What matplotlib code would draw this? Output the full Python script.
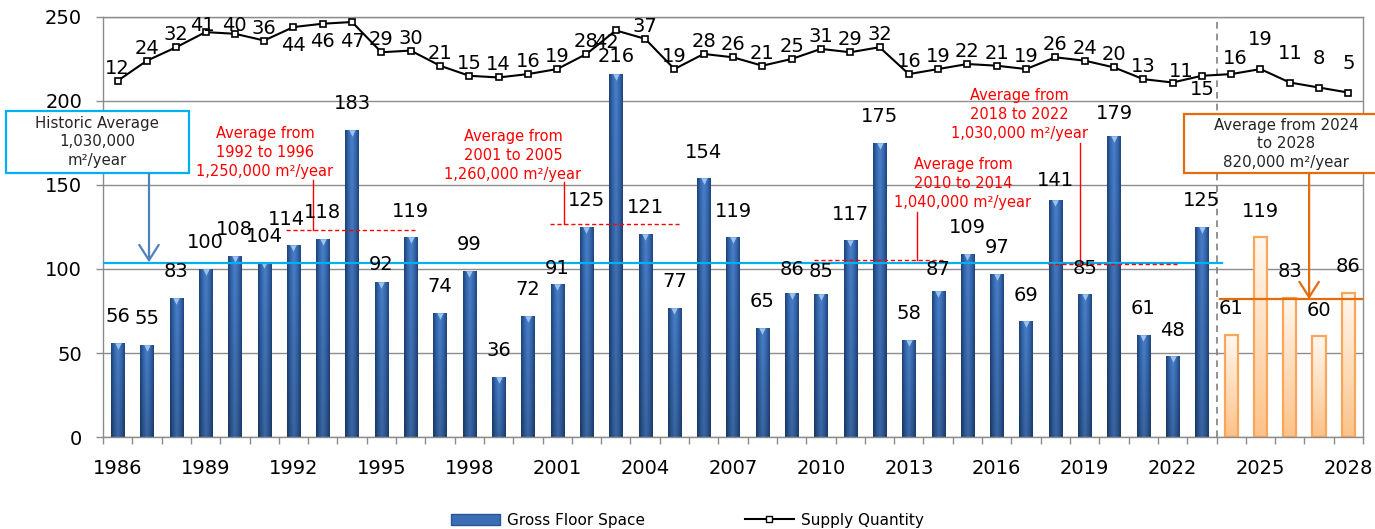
import numpy as np
import matplotlib.pyplot as plt
from matplotlib.patches import Rectangle, Patch
from matplotlib.lines import Line2D
from matplotlib.colors import LinearSegmentedColormap, to_rgb

# -----------------------------
# DATA
# -----------------------------
years = list(range(1986, 2029))
floor_actual = [56, 55, 83, 100, 108, 104, 114, 118, 183, 92,
                119, 74, 99, 36, 72, 91, 125, 216, 121, 77,
                154, 119, 65, 86, 85, 117, 175, 58, 87, 109,
                97, 69, 141, 85, 179, 61, 48, 125]
floor_forecast = [61, 119, 83, 60, 86]
supply_qty = [12, 24, 32, 41, 40, 36, 44, 46, 47, 29,
              30, 21, 15, 14, 16, 19, 28, 42, 37, 19,
              28, 26, 21, 25, 31, 29, 32, 16, 19, 22,
              21, 19, 26, 24, 20, 13, 11, 15, 16, 19,
              11, 8, 5]
tick_years = years[::3]

avg_starts = [1992, 2001, 2010, 2018]
avg_ends = [1996, 2005, 2014, 2022]
avg_amounts = ["1,250,000", "1,260,000", "1,040,000", "1,030,000"]
avg_levels = [123, 126.5, 105.5, 103]
historic_avg = 103.5
forecast_avg = 82

# -----------------------------
# STYLE
# -----------------------------
GRID = "#8C8C8C"
CYAN = "#00B0F0"
ARROW_BLUE = "#4F81BD"
ORANGE = "#E46C0A"
RED = "#FF0000"
FS = 14

# text x, text y, stem x, stem top (data coords)
AVG_LAYOUT = [(5.03, 169.3, 6.67, 152.7),
              (13.49, 167.6, 15.23, 151.5),
              (28.85, 150.9, 27.28, 133.7),
              (30.76, 191.9, 32.84, 174.7)]

# label nudges
BAR_OFFSETS = {1992: (-0.25, 0), 1995: (0, -5), 2001: (0, -6), 2003: (0, -5),
               2009: (0, -2), 2010: (0, -2), 2014: (0, -3), 2018: (0, -4),
               2020: (0, -2)}
LINE_OFFSETS = {1989: (-2, 5), 1990: (0, 6), 1992: (0, -13), 1993: (0, -13),
                1994: (0, -14), 2003: (-7, -9), 2022: (6, 8), 2023: (0, -10),
                2024: (3, 11), 2025: (0, 21), 2026: (0, 21), 2027: (0, 21),
                2028: (0, 21)}

n_act = len(floor_actual)
x_act = np.arange(n_act)
x_fc = np.arange(n_act, n_act + len(floor_forecast))
x_all = np.arange(len(years))

fig = plt.figure(figsize=(13.75, 5.29), dpi=100)
ax = fig.add_axes([0.0749, 0.1739, 0.9164, 0.794])

# blue bars with a simple 3D-ish gradient
blue_cmap = LinearSegmentedColormap.from_list(
    "bluebar", ["#1D4378", "#3569B0", "#4A80CB", "#386AB0", "#1F4680"])
bars = ax.bar(x_act, floor_actual, width=0.45, color="none",
              edgecolor="none", zorder=2)
prof = np.array([blue_cmap(t)[:3] for t in np.linspace(0, 1, 40)])
vert = np.linspace(1.0, 0.8, 40)[:, None, None]
blue_img = np.clip(prof[None, :, :] * vert, 0, 1)
for b in bars:
    im = ax.imshow(blue_img, aspect="auto", interpolation="bilinear",
                   extent=[b.get_x(), b.get_x() + b.get_width(), 0, b.get_height()],
                   zorder=1.9)
    im.set_clip_path(b)
ax.scatter(x_act, np.array(floor_actual) - 1.8, marker="v", s=22,
           color="#9CC3EE", zorder=2.1, linewidths=0)

# orange forecast bars
obars = ax.bar(x_fc, floor_forecast, width=0.45, color="none",
               edgecolor="#F9A65A", linewidth=1.6, zorder=2)
top_c = np.array(to_rgb("#FFF8EF"))
bot_c = np.array(to_rgb("#FCC38A"))
t = np.linspace(0, 1, 40)[:, None]
org_img = (top_c * (1 - t) + bot_c * t)[:, None, :]
for b in obars:
    im = ax.imshow(org_img, aspect="auto", interpolation="bilinear",
                   extent=[b.get_x(), b.get_x() + b.get_width(), 0, b.get_height()],
                   zorder=1.9)
    im.set_clip_path(b)

# bar value labels
for yr, xi, v in zip(years, x_all, floor_actual + floor_forecast):
    dx, dy = BAR_OFFSETS.get(yr, (0, 0))
    ax.text(xi + dx, v + 15.5 + dy, str(v), ha="center", va="center",
            fontsize=FS, color="black", zorder=5)

# historic average
ax.plot([-0.5, 37.7], [historic_avg, historic_avg], color=CYAN, lw=1.6, zorder=3)
ax.add_patch(Rectangle((-3.81, 156.9), 6.25, 37.4, facecolor="white",
                       edgecolor=CYAN, lw=1.6, clip_on=False, zorder=4))
ax.text(-0.69, 175.6, "Historic Average\n1,030,000\nm²/year", ha="center",
        va="center", fontsize=10.8, linespacing=1.3, color="#262626",
        zorder=5, clip_on=False)
ax.annotate("", xy=(1.07, historic_avg + 0.5), xytext=(1.07, 156.9),
            arrowprops=dict(arrowstyle="->,head_length=1.1,head_width=0.7",
                            color=ARROW_BLUE, lw=1.6, shrinkA=0, shrinkB=0,
                            mutation_scale=10), zorder=4)

# red period averages
for s, e, amt, lvl, (tx, ty, sx, stop) in zip(avg_starts, avg_ends, avg_amounts,
                                                 avg_levels, AVG_LAYOUT):
    i0 = years.index(s) - 0.25
    i1 = years.index(e) + 0.15
    ax.plot([i0, i1], [lvl, lvl], color=RED, lw=1, ls=(0, (3, 2)), zorder=3.5)
    ax.plot([sx, sx], [lvl, stop], color=RED, lw=1, zorder=3.5)
    ax.text(tx, ty, f"Average from\n{s} to {e}\n{amt} m²/year", ha="center",
            va="center", fontsize=10.5, linespacing=1.3, color=RED, zorder=5)

# forecast average
ax.plot([37.62, 42.5], [forecast_avg, forecast_avg], color=ORANGE, lw=1.6, zorder=3)
ax.add_patch(Rectangle((36.39, 156.9), 6.6, 35.6, facecolor="white",
                       edgecolor=ORANGE, lw=1.6, clip_on=False, zorder=4))
ax.text(39.88, 174.4, "Average from 2024\nto 2028\n820,000 m²/year", ha="center",
        va="center", fontsize=10.8, linespacing=1.3, color="#262626",
        zorder=5, clip_on=False)
ax.annotate("", xy=(40.66, forecast_avg), xytext=(40.66, 156.9),
            arrowprops=dict(arrowstyle="->,head_length=1.1,head_width=0.7",
                            color=ORANGE, lw=1.6, shrinkA=0, shrinkB=0,
                            mutation_scale=10), zorder=4)

# actual / forecast divider
ax.axvline(37.5, color="#808080", lw=1.2, ls=(0, (4, 3)), zorder=3)

# axes styling
ax.set_xlim(-0.5, len(years) - 0.5)
ax.set_ylim(0, 250)
ax.set_yticks(range(0, 251, 50))
ax.set_xticks([years.index(y) for y in tick_years])
ax.set_xticklabels([str(y) for y in tick_years])
ax.set_xticks(np.arange(-0.5, len(years), 1), minor=True)
ax.tick_params(axis="x", which="major", length=0, pad=16, labelsize=FS)
ax.tick_params(axis="x", which="minor", length=5, color=GRID, width=1)
ax.tick_params(axis="y", length=5, pad=10, labelsize=FS, color=GRID, width=1)
ax.yaxis.grid(True, color=GRID, lw=1)
ax.set_axisbelow(True)
for sp in ax.spines.values():
    sp.set_color(GRID)
    sp.set_linewidth(1)

# supply quantity on hidden secondary scale
ax2 = ax.twinx()
ax2.set_ylim(-200, 50)
ax2.plot(x_all, supply_qty, color="black", lw=1.5, marker="s", ms=5,
         mfc="white", mec="black", mew=1.2, zorder=3)
for yr, xi, q in zip(years, x_all, supply_qty):
    off = LINE_OFFSETS.get(yr, (0, 9))
    ax2.annotate(str(q), (xi, q), xytext=off, textcoords="offset points",
                 ha="center", va="center", fontsize=FS, color="black")
ax2.axis("off")

# legend
handles = [Patch(facecolor="#3A6DB4", edgecolor="#2A5592"),
           Line2D([], [], color="black", lw=1.5, marker="s", ms=5,
                  mfc="white", mec="black")]
fig.legend(handles, ["Gross Floor Space", "Supply Quantity"], loc="center",
           bbox_to_anchor=(0.5, 0.017), ncol=2, frameon=False, fontsize=11,
           handlelength=3.2, handletextpad=0.5, columnspacing=6.5)

fig.savefig("out.png", dpi=100)
plt.close()
